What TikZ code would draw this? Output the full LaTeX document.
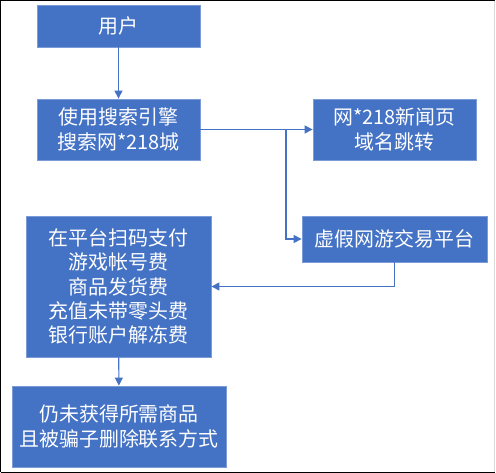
\documentclass[tikz,border=0pt]{standalone}
\usepackage{fontspec}
\setmainfont{Noto Sans CJK SC}
\usetikzlibrary{arrows.meta}
\definecolor{boxblue}{HTML}{4472C4}
\definecolor{boxedge}{HTML}{7B9BD6}
\begin{document}
\begin{tikzpicture}[x=1bp,y=-1bp,>={Triangle[length=8bp,width=8bp]},
  box/.style={fill=boxblue,draw=boxedge,line width=0.8bp,text=white,align=center,
    inner sep=0pt,font=\fontsize{20}{24.5}\selectfont},
  link/.style={->,draw=boxblue,line width=1.1bp}]
\useasboundingbox (0,0) rectangle (496,473);
\draw[line width=1.2bp] (0.6,472.4) -- (0.6,0.6) -- (495.4,0.6);
\draw[line width=1.2bp] (0.6,472.4) -- (495.4,472.4);
\draw[gray!30,line width=1bp] (494.5,0.6) -- (494.5,472.4);
\coordinate (B1) at (118.5,26);
\coordinate (B2) at (118.5,129.5);
\coordinate (B3) at (394.5,129.5);
\coordinate (B4) at (394.5,239);
\coordinate (B5) at (118.5,286.5);
\coordinate (B6) at (119,426.5);
\coordinate (J1) at (286,129.5);
\node[box,minimum width=163bp,minimum height=42bp] (user) at (B1) {用户};
\node[box,minimum width=163bp,minimum height=61bp] (search) at (B2) {使用搜索引擎\\搜索网*218城};
\node[box,minimum width=163bp,minimum height=61bp] (news) at (B3) {网*218新闻页\\域名跳转};
\node[box,minimum width=185bp,minimum height=46bp] (fake) at (B4) {虚假网游交易平台};
\node[box,minimum width=185bp,minimum height=141bp] (pay) at (B5) {在平台扫码支付\\游戏帐号费\\商品发货费\\充值未带零头费\\银行账户解冻费};
\node[box,minimum width=214bp,minimum height=81bp] (lost) at (B6) {仍未获得所需商品\\且被骗子删除联系方式};
\draw[link] (user) -- (search);
\draw[link] (search) -- (news);
\draw[link] (J1) |- (fake);
\draw[link] (fake) |- (pay);
\draw[link] (pay) -- (lost);
\end{tikzpicture}
\end{document}
